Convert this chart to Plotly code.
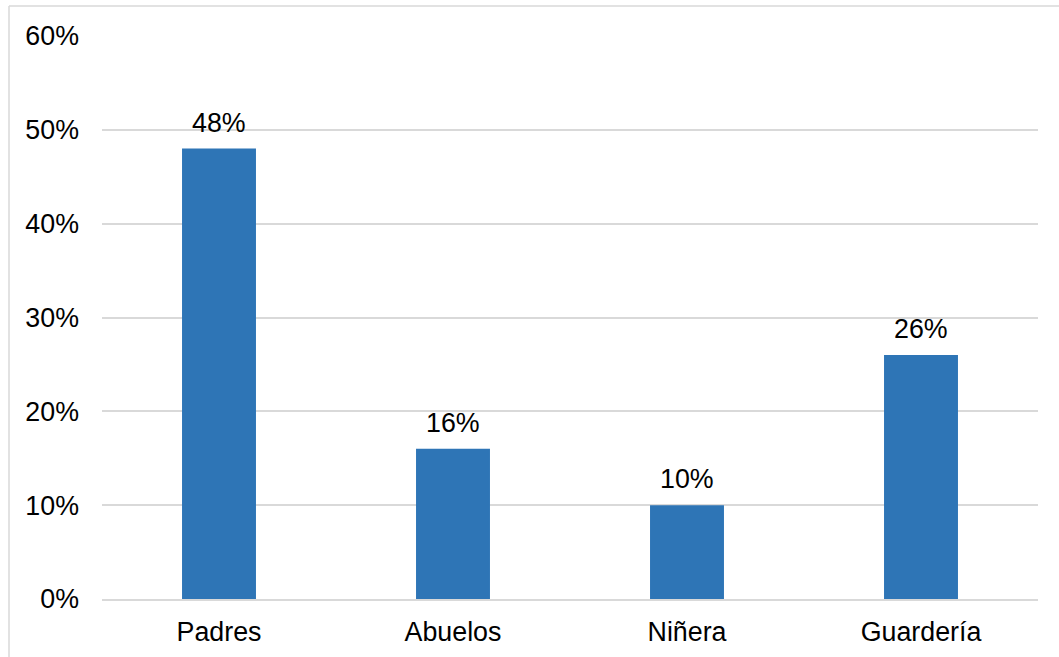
import plotly.graph_objects as go

categories = ["Padres", "Abuelos", "Niñera", "Guardería"]
values = [0.48, 0.16, 0.10, 0.26]
labels = ["48%", "16%", "10%", "26%"]

W, H = 1059, 657
L, R, T, B = 102, 21, 36, 58
pw, ph = W - L - R, H - T - B
FS = 26.8
FONT = "Liberation Sans, Arial"

fig = go.Figure(go.Bar(
    x=categories, y=values,
    marker=dict(color="#2E75B6", line=dict(width=0)),
    width=0.316,
))

for c, v, t in zip(categories, values, labels):
    fig.add_annotation(x=c, y=v, text=t, showarrow=False, yanchor="bottom",
                       yshift=9, font=dict(family=FONT, size=FS, color="#000000"))

bx = (9 - L) / pw
by = (H - B - 6) / ph
fig.add_shape(type="line", xref="paper", yref="paper", x0=bx, x1=bx, y0=-1, y1=by,
              line=dict(color="#D9D9D9", width=1.5))
fig.add_shape(type="line", xref="paper", yref="paper", x0=bx, x1=2, y0=by, y1=by,
              line=dict(color="#D9D9D9", width=1.5))

fig.update_layout(
    width=W, height=H, margin=dict(l=L, r=R, t=T, b=B, pad=0, autoexpand=False),
    paper_bgcolor="white", plot_bgcolor="white", showlegend=False,
    font=dict(family=FONT, size=FS, color="#000000"),
    xaxis=dict(showgrid=False, showline=True, linecolor="#D9D9D9", linewidth=2,
               ticks="", ticklabelstandoff=8, tickfont=dict(size=FS), automargin=False),
    yaxis=dict(range=[0, 0.6], dtick=0.1, tickformat=".0%", showgrid=True,
               gridcolor="#D9D9D9", gridwidth=1.5, zeroline=False, showline=False,
               ticks="", ticklabelstandoff=22, tickfont=dict(size=FS), automargin=False),
)

fig.write_html("out.html")
